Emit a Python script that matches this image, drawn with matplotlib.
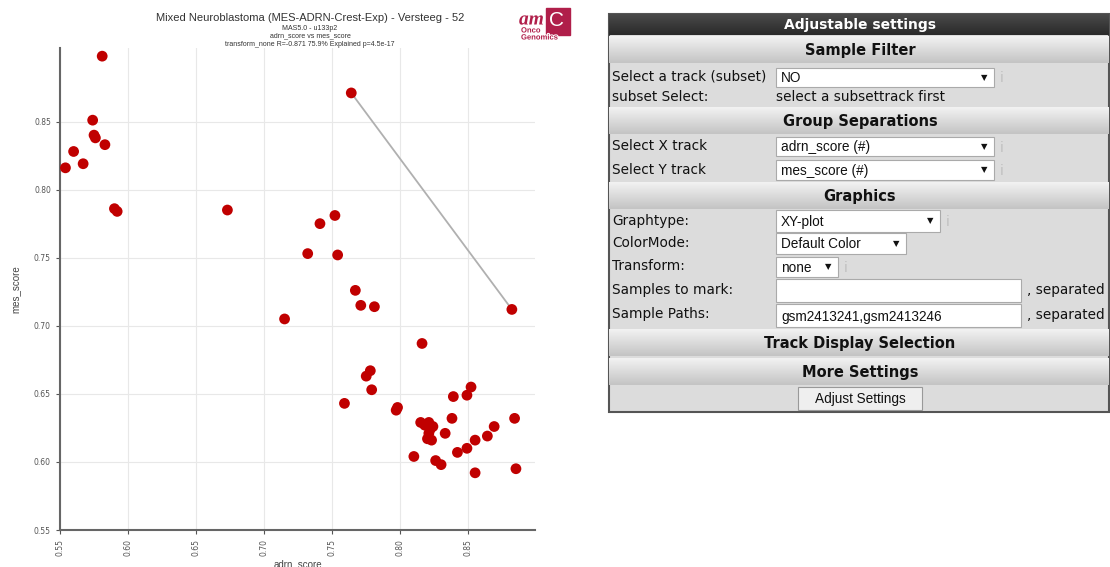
import numpy as np
import matplotlib
matplotlib.use("Agg")
import matplotlib.pyplot as plt
from matplotlib.patches import Rectangle
import matplotlib.patheffects as pe

# data
adrn_score = [0.581, 0.574, 0.575, 0.576, 0.583, 0.560, 0.567, 0.554, 0.590, 0.592,
              0.673, 0.764, 0.752, 0.741, 0.732, 0.754, 0.715, 0.767, 0.771, 0.781,
              0.882, 0.816, 0.775, 0.778, 0.779, 0.759, 0.798, 0.797, 0.839, 0.852,
              0.849, 0.838, 0.884, 0.869, 0.864, 0.855, 0.849, 0.842, 0.833, 0.810,
              0.826, 0.830, 0.855, 0.885, 0.815, 0.821, 0.824, 0.822, 0.821, 0.820,
              0.823, 0.818]
mes_score = [0.898, 0.851, 0.840, 0.838, 0.833, 0.828, 0.819, 0.816, 0.786, 0.784,
             0.785, 0.871, 0.781, 0.775, 0.753, 0.752, 0.705, 0.726, 0.715, 0.714,
             0.712, 0.687, 0.663, 0.667, 0.653, 0.643, 0.640, 0.638, 0.648, 0.655,
             0.649, 0.632, 0.632, 0.626, 0.619, 0.616, 0.610, 0.607, 0.621, 0.604,
             0.601, 0.598, 0.592, 0.595, 0.629, 0.629, 0.626, 0.624, 0.621, 0.617,
             0.616, 0.627]
path_idx = [11, 20]  # gsm2413241 -> gsm2413246
xticks = [0.55, 0.60, 0.65, 0.70, 0.75, 0.80, 0.85]
yticks = [0.55, 0.60, 0.65, 0.70, 0.75, 0.80, 0.85]

W, H = 1110, 567
fig = plt.figure(figsize=(W / 100, H / 100), dpi=100)

# ---------- scatter plot ----------
ax = fig.add_axes([60 / W, 1 - 530 / H, 475 / W, 482 / H])
ax.set_xlim(0.55, 0.899)
ax.set_ylim(0.55, 0.904)
ax.grid(True, color="#e8e8e8", lw=0.8)
ax.set_axisbelow(True)
ax.plot([adrn_score[i] for i in path_idx], [mes_score[i] for i in path_idx],
        color="#b0b0b0", lw=1.3, zorder=2)
ax.scatter(adrn_score, mes_score, s=60, color="#c00000", edgecolor="none", zorder=3)
for s in ["top", "right"]:
    ax.spines[s].set_visible(False)
for s in ["left", "bottom"]:
    ax.spines[s].set_color("#666666")
    ax.spines[s].set_linewidth(1.5)
ax.set_xticks(xticks)
ax.set_yticks(yticks)
ax.set_xticklabels(["%.2f" % v for v in xticks], rotation=90)
ax.set_yticklabels(["%.2f" % v for v in yticks])
ax.tick_params(labelsize=5.5, colors="#555555", length=3, width=0.8)
ax.set_xlabel("adrn_score", fontsize=7, color="#444444", labelpad=2,
              family="Liberation Sans")
ax.set_ylabel("mes_score", fontsize=7, color="#444444", labelpad=10,
              family="Liberation Sans")

# ---------- overlay in pixel coords ----------
ov2 = fig.add_axes([0, 0, 1, 1], zorder=5)
ov2.set_xlim(0, W)
ov2.set_ylim(H, 0)
ov2.axis("off")
ov2.patch.set_alpha(0)

ov2.text(310, 18, "Mixed Neuroblastoma (MES-ADRN-Crest-Exp) - Versteeg - 52",
         ha="center", va="center", fontsize=8, color="#333333", family="Liberation Sans")
ov2.text(310, 28, "MAS5.0 - u133p2", ha="center", va="center", fontsize=5,
         color="#333333", family="Liberation Sans")
ov2.text(310, 36, "adrn_score vs mes_score", ha="center", va="center", fontsize=5,
         color="#333333", family="Liberation Sans")
ov2.text(310, 44, "transform_none R=-0.871 75.9% Explained p=4.5e-17", ha="center",
         va="center", fontsize=5, color="#333333", family="Liberation Sans")

# logo
logo = "#b01f4a"
outline = [pe.withStroke(linewidth=1.5, foreground="white")]
ov2.add_patch(Rectangle((546, 8), 24, 27, color=logo, zorder=2))
ov2.text(557, 21, "C", fontsize=15, color="white", ha="center", va="center",
         family="Liberation Sans", zorder=3)
ov2.text(519, 20, "am", fontsize=14, color=logo, family="Liberation Serif",
         style="italic", weight="bold", va="center", zorder=4, path_effects=outline)
ov2.text(521, 31, "Onco", fontsize=5.5, color=logo, va="center", weight="bold",
         family="Liberation Sans", zorder=4, path_effects=outline)
ov2.text(521, 38, "Genomics", fontsize=5.5, color=logo, va="center", weight="bold",
         family="Liberation Sans", zorder=4, path_effects=outline)

# ---------- settings panel ----------
PX0, PX1 = 609, 1109
PY0, PY1 = 14, 412
fnt = "DejaVu Sans"
fs = 9.8


def grad(y0, y1, c_top, c_bot, x0=PX0, x1=PX1):
    g = np.linspace(0, 1, 32)[:, None, None]
    a = np.array(matplotlib.colors.to_rgb(c_top))
    b = np.array(matplotlib.colors.to_rgb(c_bot))
    img = a + (b - a) * g
    ov2.imshow(img, extent=(x0, x1, y1, y0), aspect="auto", zorder=1)


ov2.add_patch(Rectangle((PX0, PY0), PX1 - PX0, PY1 - PY0, facecolor="#dcdcdc",
                        edgecolor="#555555", lw=1.5, zorder=0.5))
grad(PY0, 35, "#4a4a4a", "#2a2a2a")
ov2.text(860, 25, "Adjustable settings", ha="center", va="center", fontsize=10,
         color="white", weight="bold", family=fnt, zorder=3)

for y0, y1, lab in [(36, 63, "Sample Filter"), (107, 134, "Group Separations"),
                    (182, 209, "Graphics"), (329, 356, "Track Display Selection"),
                    (358, 385, "More Settings")]:
    grad(y0, y1, "#f2f2f2", "#c4c4c4")
    ov2.text(860, (y0 + y1) / 2 + 1, lab, ha="center", va="center", fontsize=10.5,
             weight="bold", color="#111111", family=fnt, zorder=3)

labels = [(77, "Select a track (subset)"), (97, "subset Select:"),
          (146, "Select X track"), (170, "Select Y track"), (221, "Graphtype:"),
          (243, "ColorMode:"), (266, "Transform:"), (290, "Samples to mark:"),
          (314, "Sample Paths:")]
for y, t in labels:
    ov2.text(612, y, t, va="center", fontsize=fs, color="#111111", family=fnt, zorder=3)
ov2.text(776, 97, "select a subsettrack first", va="center", fontsize=fs,
         color="#111111", family=fnt, zorder=3)


def box(x0, x1, y0, y1, txt="", arrow=False, info=False):
    ov2.add_patch(Rectangle((x0, y0), x1 - x0, y1 - y0, facecolor="white",
                            edgecolor="#aaaaaa", lw=0.8, zorder=2))
    if txt:
        ov2.text(x0 + 5, (y0 + y1) / 2 + 1, txt, va="center", fontsize=fs,
                 color="#111111", family="Liberation Sans", zorder=3)
    if arrow:
        ov2.text(x1 - 10, (y0 + y1) / 2, "▼", ha="center", va="center", fontsize=6,
                 color="#111111", family=fnt, zorder=3)
    if info:
        ov2.text(x1 + 8, (y0 + y1) / 2 + 1, "i", ha="center", va="center",
                 fontsize=10, color="#c0c0c0", family=fnt, zorder=3)


box(776, 994, 68, 87, "NO", True, True)
box(776, 994, 137, 156, "adrn_score (#)", True, True)
box(776, 994, 160, 180, "mes_score (#)", True, True)
box(776, 940, 210, 232, "XY-plot", True, True)
box(776, 906, 233, 254, "Default Color", True)
box(776, 838, 257, 277, "none", True, True)
box(776, 1021, 279, 302)
box(776, 1021, 304, 327, "gsm2413241,gsm2413246")
ov2.text(1027, 290, ", separated", va="center", fontsize=fs, color="#111111",
         family=fnt, zorder=3)
ov2.text(1027, 315, ", separated", va="center", fontsize=fs, color="#111111",
         family=fnt, zorder=3)

# button
ov2.add_patch(Rectangle((798, 387), 124, 23, facecolor="#efefef",
                        edgecolor="#999999", lw=0.8, zorder=2))
ov2.text(860, 399, "Adjust Settings", ha="center", va="center", fontsize=fs,
         color="#111111", family="Liberation Sans", zorder=3)

fig.savefig("out.png", dpi=100)
